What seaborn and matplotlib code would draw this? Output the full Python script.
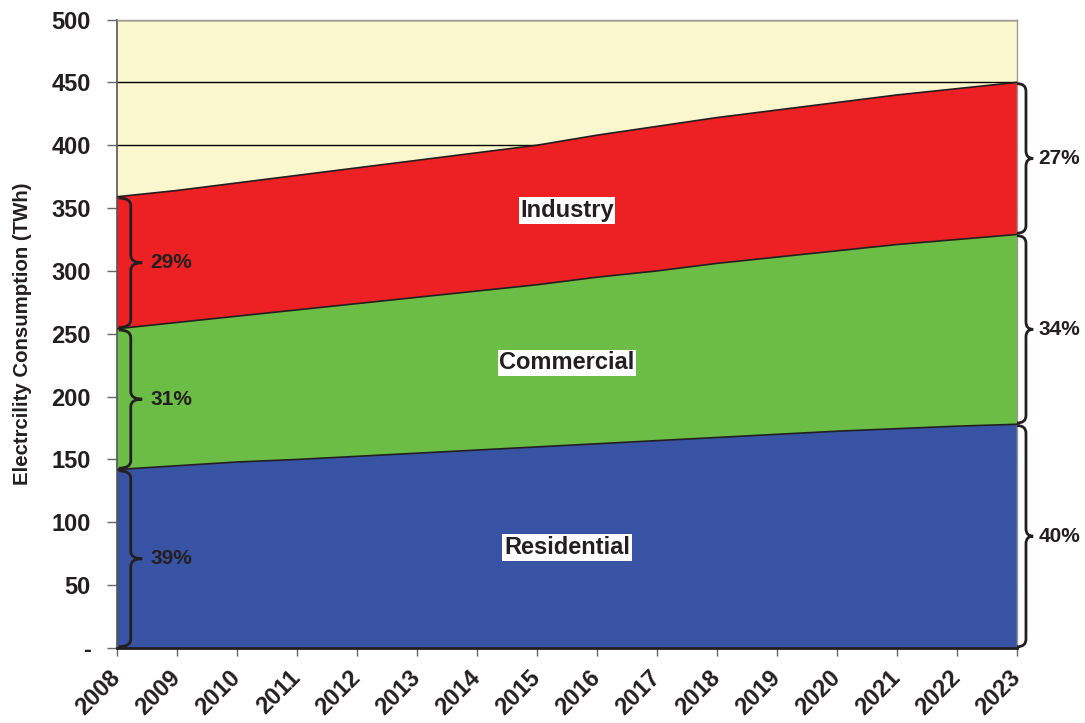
import numpy as np
import pandas as pd
import seaborn as sns
import matplotlib.pyplot as plt
import matplotlib.transforms as mtransforms
from matplotlib.path import Path
from matplotlib.patches import PathPatch

years = list(range(2008, 2024))
residential = [142, 145, 148, 150, 152.5, 155, 157.5, 160, 162.5, 165, 167.5, 170, 172.5, 174.5, 176.5, 178]
commercial = [112, 114, 116, 119, 121.5, 124, 126.5, 129, 132.5, 135, 138.5, 141, 143.5, 146.5, 148.5, 151]
industry = [105, 105, 106, 107, 108, 109, 110, 111, 113, 115, 116, 117, 118, 119, 120, 121]

sectors = ["Residential", "Commercial", "Industry"]
colors = ["#3953A4", "#6BBD45", "#ED2024"]
share_2008 = ["39%", "31%", "29%"]
share_2023 = ["40%", "34%", "27%"]
label_pos = [(2015.5, 80), (2015.5, 227), (2015.5, 348)]

df = pd.DataFrame({"year": years, "Residential": residential,
                   "Commercial": commercial, "Industry": industry})
stack = df[sectors].cumsum(axis=1)

sns.set_theme(style="white")
plt.rcParams["font.family"] = ["Liberation Sans", "DejaVu Sans"]
plt.rcParams["font.weight"] = "bold"
TXT = "#231F20"

fig = plt.figure(figsize=(10.85, 7.23), dpi=100)
ax = fig.add_axes([0.1078, 0.1037, 0.8295, 0.8693])
ax.set_facecolor("#FAF7CE")

ax.stackplot(df["year"], [df[s] for s in sectors], colors=colors,
             edgecolor="none", zorder=2)
for s in sectors:
    sns.lineplot(x=df["year"], y=stack[s], color=TXT, lw=1.2, ax=ax, zorder=3)

ax.set_xlim(2008, 2023)
ax.set_ylim(0, 500)
ax.set_xticks(years)
ax.set_xticklabels([str(y) for y in years], rotation=45, ha="right", va="center",
                   rotation_mode="anchor", fontsize=17, fontweight="bold", color=TXT)
shift = mtransforms.ScaledTranslation(-19 / 100, 0, fig.dpi_scale_trans)
for lbl in ax.get_xticklabels():
    lbl.set_transform(lbl.get_transform() + shift)
yt = list(range(0, 501, 50))
ax.set_yticks(yt)
ax.set_yticklabels(["-"] + [str(v) for v in yt[1:]], fontsize=17,
                   fontweight="bold", color=TXT)
ax.tick_params(axis="both", direction="out", width=1, color="#666666",
               bottom=True, left=True)
ax.tick_params(axis="x", length=6, pad=13)
ax.tick_params(axis="y", length=7, pad=12)
ax.yaxis.grid(True, color="black", lw=1, zorder=1)
ax.set_axisbelow(True)
ax.set_xlabel("")
ax.set_ylabel("Electrcility Consumption (TWh)", fontsize=14.7, fontweight="bold",
              color=TXT, labelpad=14)

for side in ["top", "right"]:
    ax.spines[side].set_color("#999999")
    ax.spines[side].set_linewidth(1)
ax.spines["left"].set_color("#555555")
ax.spines["left"].set_linewidth(1.2)
ax.spines["bottom"].set_color(TXT)
ax.spines["bottom"].set_linewidth(2)


def brace(x0, xv, xt, ybot, ytop, r=6):
    ym = (ybot + ytop) / 2
    verts = [(x0, ytop), (xv, ytop), (xv, ytop - r),
             (xv, ym + r), (xv, ym), (xt, ym),
             (xv, ym), (xv, ym - r),
             (xv, ybot + r), (xv, ybot), (x0, ybot)]
    codes = [Path.MOVETO, Path.CURVE3, Path.CURVE3,
             Path.LINETO, Path.CURVE3, Path.CURVE3,
             Path.CURVE3, Path.CURVE3,
             Path.LINETO, Path.CURVE3, Path.CURVE3]
    ax.add_patch(PathPatch(Path(verts, codes), fill=False, ec=TXT, lw=2,
                           clip_on=False, zorder=5))
    return ym


lows0 = [0] + [stack[s].iloc[0] for s in sectors[:-1]]
lows1 = [0] + [stack[s].iloc[-1] for s in sectors[:-1]]
for i, s in enumerate(sectors):
    ym = brace(2008.03, 2008.23, 2008.42, lows0[i] + 1, stack[s].iloc[0] - 1)
    ax.text(2008.56, ym, share_2008[i], fontsize=15, fontweight="bold",
            color=TXT, va="center", ha="left", zorder=6)
    ym = brace(2023.0, 2023.15, 2023.27, lows1[i] + 1, stack[s].iloc[-1] - 1)
    ax.text(2023.36, ym, share_2023[i], fontsize=15, fontweight="bold",
            color=TXT, va="center", ha="left", clip_on=False, zorder=6)
    lx, ly = label_pos[i]
    ax.text(lx, ly, s, fontsize=17, fontweight="bold", color=TXT,
            ha="center", va="center", zorder=6,
            bbox=dict(facecolor="white", edgecolor="none", pad=1.2))

fig.savefig("out.png", dpi=100)
